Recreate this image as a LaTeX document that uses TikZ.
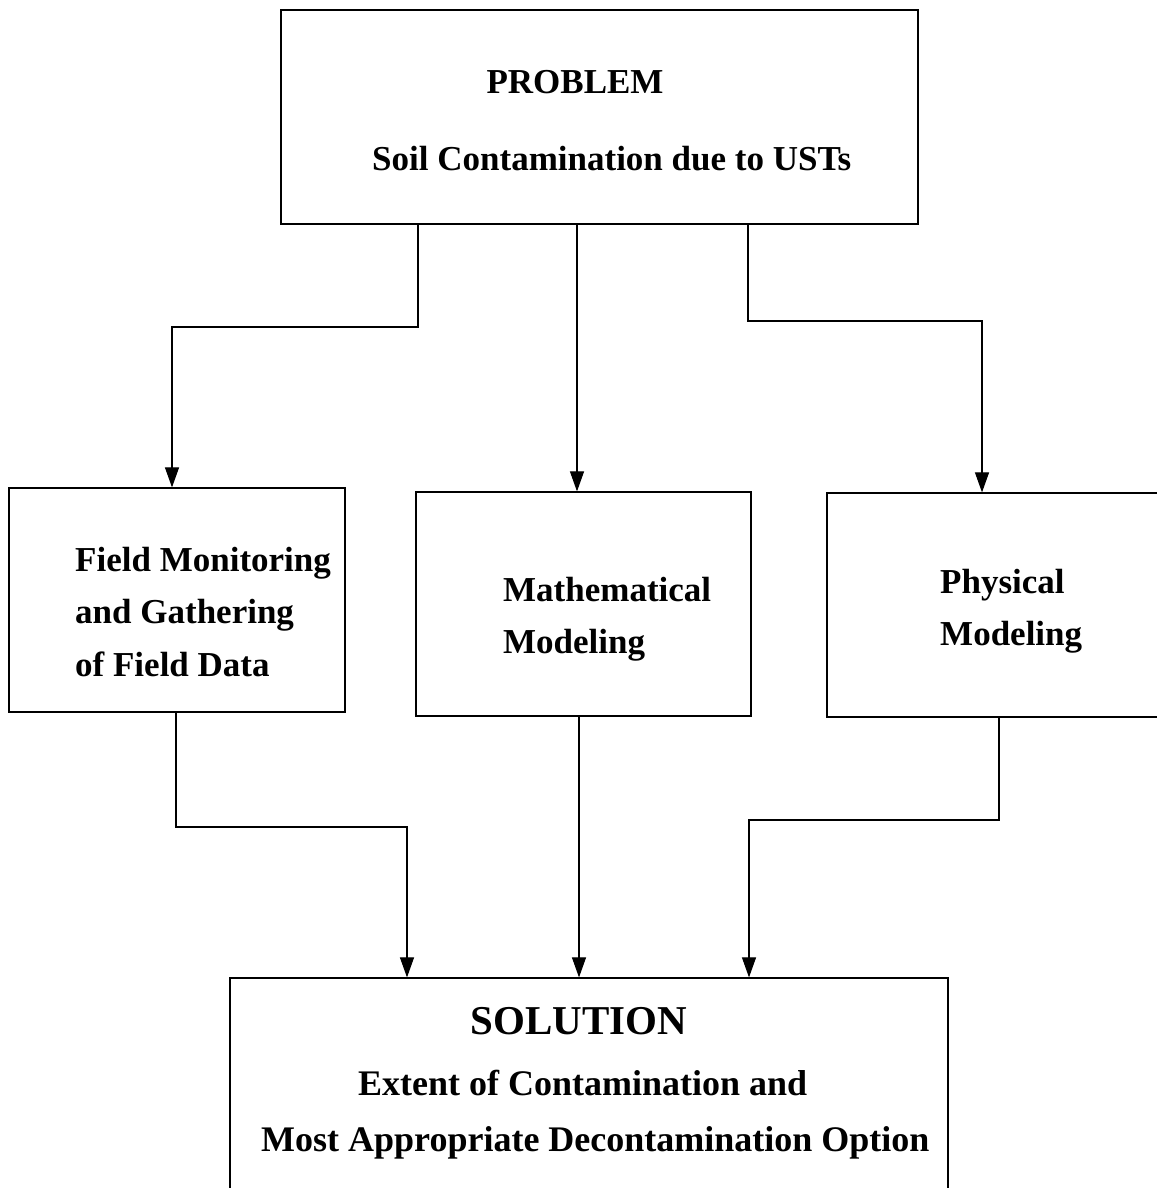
\documentclass[tikz,border=0pt]{standalone}
\usepackage{fontspec}
\setmainfont{Liberation Serif}
\usepackage{tikz}
\usetikzlibrary{positioning, arrows.meta}

\begin{document}
\begin{tikzpicture}[x=1pt, y=-1pt,
      sbox/.style={rectangle, draw, line width=1.2pt, inner sep=0pt},
      stxt/.style={inner sep=0pt, align=left,
                   font=\fontsize{35}{52.5}\selectfont\bfseries},
      arr/.style={-{Triangle[length=20pt, width=14pt]}, line width=1.1pt}
    ]
    \useasboundingbox (0,0) rectangle (1156,1188);

    \node[sbox, minimum width=637pt, minimum height=214pt] (prob)  at (599.5,117) {};
    \node[sbox, minimum width=336pt, minimum height=224pt] (field) at (177,600)   {};
    \node[sbox, minimum width=335pt, minimum height=224pt] (math)  at (583.5,604) {};
    \node[sbox, minimum width=335pt, minimum height=224pt] (phys)  at (994.5,605) {};
    \node[sbox, minimum width=718pt, minimum height=230pt] (sol)   at (589,1093)  {};

    \node[stxt, anchor=base]      (probtitle) at (575,94)   {PROBLEM};
    \node[stxt, anchor=base west] (probtext)  at (372,170)  {Soil Contamination due to USTs};
    \node[stxt, anchor=west]      (fieldtext) at (75,612)
          {Field Monitoring\\and Gathering\\of Field Data};
    \node[stxt, anchor=west]      (mathtext)  at (503,619)  {Mathematical\\Modeling};
    \node[stxt, anchor=west]      (phystext)  at (940,611)  {Physical\\Modeling};
    \node[stxt, anchor=base, font=\fontsize{41}{50}\selectfont\bfseries]
          (soltitle) at (579,1034) {SOLUTION};
    \node[stxt, anchor=base west, font=\fontsize{36}{50}\selectfont\bfseries]
          (soltext1)  at (358,1095) {Extent of Contamination and};
    \node[stxt, anchor=base west, font=\fontsize{36}{50}\selectfont\bfseries]
          (soltext2)  at (261,1151) {Most Appropriate Decontamination Option};

    \coordinate (k1)  at (418,327);
    \coordinate (k2)  at (172,327);
    \coordinate (k3)  at (577,400);
    \coordinate (k4)  at (748,321);
    \coordinate (k5)  at (982,321);
    \coordinate (k6)  at (176,827);
    \coordinate (k7)  at (407,827);
    \coordinate (k8)  at (579,850);
    \coordinate (k9)  at (999,820);
    \coordinate (k10) at (749,820);

    \draw[arr] (prob.south -| k1) -- (k1) -- (k2) -- (field.north -| k2);
    \draw[arr] (prob.south -| k3) -- (math.north -| k3);
    \draw[arr] (prob.south -| k4) -- (k4) -- (k5) -- (phys.north -| k5);

    \draw[arr] (field.south -| k6) -- (k6) -- (k7) -- (sol.north -| k7);
    \draw[arr] (math.south -| k8)  -- (sol.north -| k8);
    \draw[arr] (phys.south -| k9)  -- (k9) -- (k10) -- (sol.north -| k10);
  \end{tikzpicture}
\end{document}
